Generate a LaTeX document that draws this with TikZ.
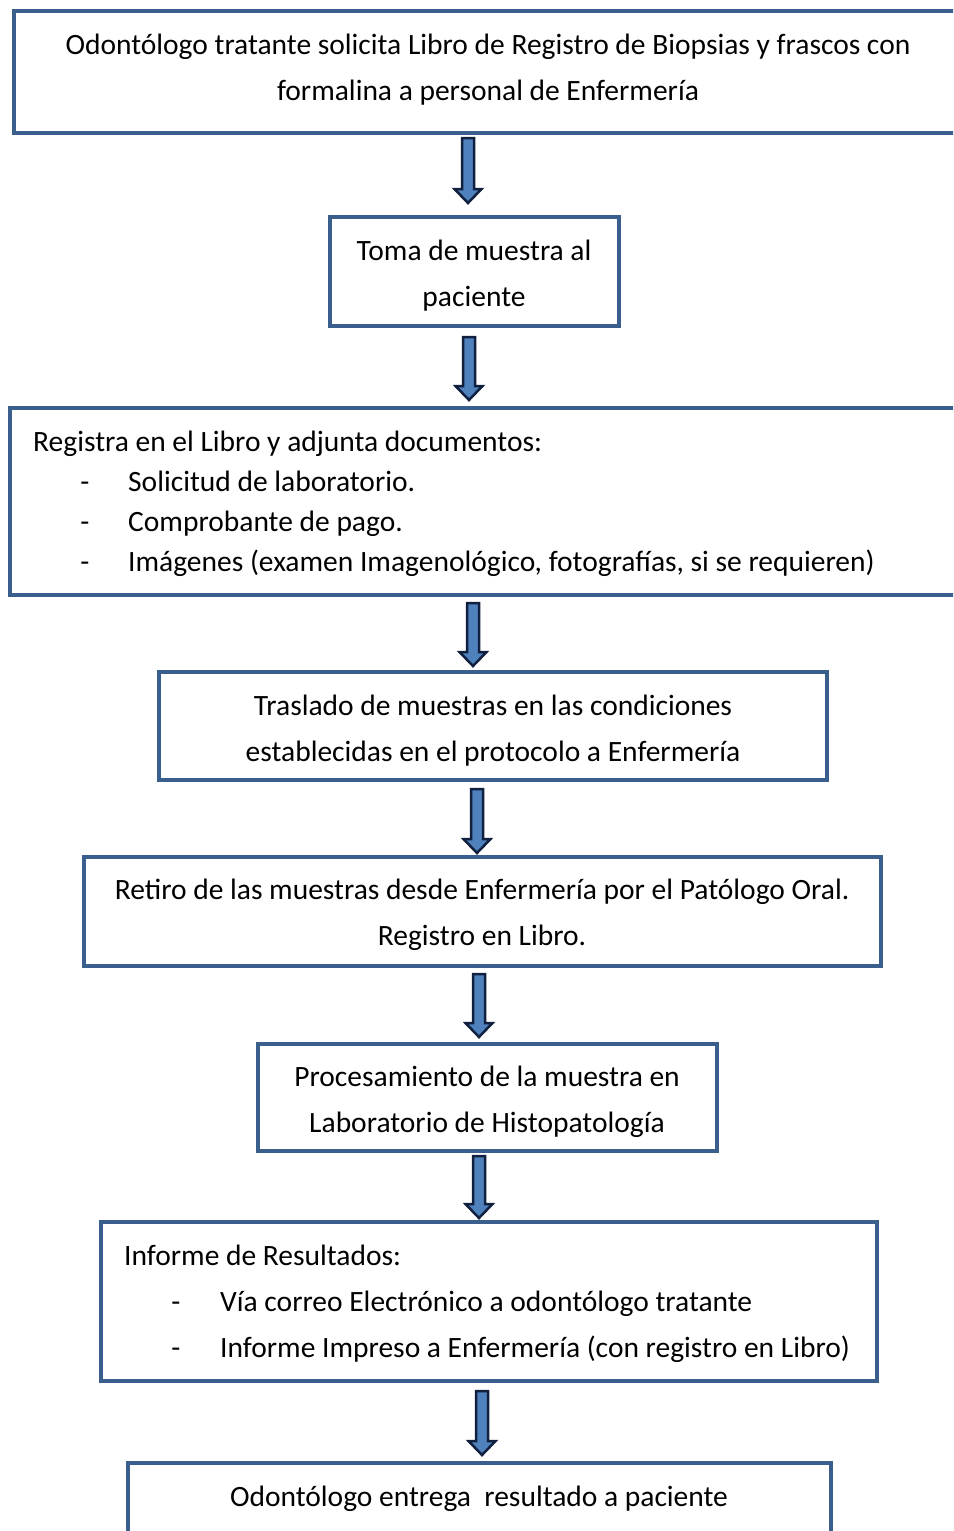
\documentclass[tikz,border=0pt]{standalone}
\usepackage{fontspec}
\setmainfont{Carlito}
\usetikzlibrary{calc}
\definecolor{boxblue}{RGB}{58,95,140}
\definecolor{arrowfill}{RGB}{79,129,189}
\definecolor{arrowline}{RGB}{16,32,62}
\tikzset{
 stepbox/.style={draw=boxblue, line width=4.5pt, rectangle, inner sep=0pt, outer sep=0pt},
 txt/.style={inner sep=0pt, font=\fontsize{29.5}{46}\selectfont, text=black},
 blockarrow/.style={fill=arrowfill, draw=arrowline, line width=2.5pt, line join=miter},
}
\newcommand\blockarr[2]{\draw[blockarrow] let \p1=(#1), \p2=(#2) in
 (\x1-6pt,\y1) -- (\x1+6pt,\y1) -- (\x1+6pt,\y2+14pt) -- (\x1+13.5pt,\y2+14pt) -- (\x1,\y2)
 -- (\x1-13.5pt,\y2+14pt) -- (\x1-6pt,\y2+14pt) -- cycle;}
\begin{document}
\begin{tikzpicture}[x=1pt,y=-1pt]
\useasboundingbox (0,0) rectangle (953,1531);
\clip (0,0) rectangle (953,1531);
\fill[white] (0,0) rectangle (953,1531);
% boxes
\node[stepbox, minimum width=946pt, minimum height=122pt] (b1) at (487,72) {};
\node[stepbox, minimum width=289pt, minimum height=109pt] (b2) at (474.5,271.5) {};
\node[stepbox, minimum width=950pt, minimum height=187pt] (b3) at (485,501.5) {};
\node[stepbox, minimum width=668pt, minimum height=108pt] (b4) at (493,726) {};
\node[stepbox, minimum width=797pt, minimum height=109pt] (b5) at (482.5,911.5) {};
\node[stepbox, minimum width=459pt, minimum height=107pt] (b6) at (487.5,1097.5) {};
\node[stepbox, minimum width=776pt, minimum height=159pt] (b7) at (489,1301.5) {};
\node[stepbox, minimum width=703pt, minimum height=137pt] (b8) at (479.5,1531.5) {};
% texts
\node[txt, anchor=base] (t1a) at (488,54) {Odontólogo tratante solicita Libro de Registro de Biopsias y frascos con};
\node[txt, anchor=base] (t1b) at (488,100) {formalina a personal de Enfermería};
\node[txt, anchor=base] (t2a) at (474,260) {Toma de muestra al};
\node[txt, anchor=base] (t2b) at (474,306) {paciente};
\node[txt, anchor=base west] (t3a) at (33,451) {Registra en el Libro y adjunta documentos:};
\node[txt, anchor=base] (d3a) at (85,491) {-};
\node[txt, anchor=base] (d3b) at (85,531) {-};
\node[txt, anchor=base] (d3c) at (85,571) {-};
\node[txt, anchor=base west] (t3b) at (128,491) {Solicitud de laboratorio.};
\node[txt, anchor=base west] (t3c) at (128,531) {Comprobante de pago.};
\node[txt, anchor=base west] (t3d) at (128,571) {Imágenes (examen Imagenológico, fotografías, si se requieren)};
\node[txt, anchor=base] (t4a) at (493,715) {Traslado de muestras en las condiciones};
\node[txt, anchor=base] (t4b) at (493,761) {establecidas en el protocolo a Enfermería};
\node[txt, anchor=base] (t5a) at (482,899) {Retiro de las muestras desde Enfermería por el Patólogo Oral.};
\node[txt, anchor=base] (t5b) at (482,945) {Registro en Libro.};
\node[txt, anchor=base] (t6a) at (487,1086) {Procesamiento de la muestra en};
\node[txt, anchor=base] (t6b) at (487,1132) {Laboratorio de Histopatología};
\node[txt, anchor=base west] (t7a) at (124,1265) {Informe de Resultados:};
\node[txt, anchor=base] (d7a) at (176,1311) {-};
\node[txt, anchor=base] (d7b) at (176,1357) {-};
\node[txt, anchor=base west] (t7b) at (220,1311) {Vía correo Electrónico a odontólogo tratante};
\node[txt, anchor=base west] (t7c) at (220,1357) {Informe Impreso a Enfermería (con registro en Libro)};
\node[txt, anchor=base] (t8a) at (479,1506) {Odontólogo entrega\ \ resultado a paciente};
% arrow end points
\coordinate (a1s) at (468,138); \coordinate (a1e) at (468,203);
\coordinate (a2s) at (469,337); \coordinate (a2e) at (469,400);
\coordinate (a3s) at (473,603); \coordinate (a3e) at (473,666);
\coordinate (a4s) at (477,789); \coordinate (a4e) at (477,853);
\coordinate (a5s) at (479,974); \coordinate (a5e) at (479,1037);
\coordinate (a6s) at (479,1156); \coordinate (a6e) at (479,1218);
\coordinate (a7s) at (482,1391); \coordinate (a7e) at (482,1455);
\blockarr{a1s}{a1e}
\blockarr{a2s}{a2e}
\blockarr{a3s}{a3e}
\blockarr{a4s}{a4e}
\blockarr{a5s}{a5e}
\blockarr{a6s}{a6e}
\blockarr{a7s}{a7e}
\end{tikzpicture}
\end{document}
